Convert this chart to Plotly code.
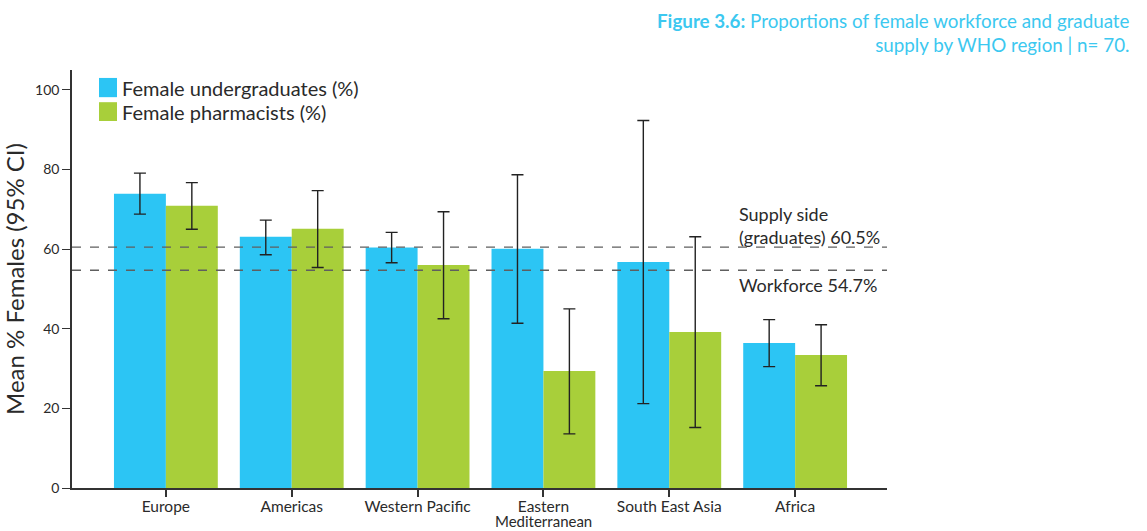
import plotly.graph_objects as go

regions = ["Europe", "Americas", "Western Pacific", "Eastern Mediterranean", "South East Asia", "Africa"]
undergrad = [73.9, 63.1, 60.4, 60.1, 56.8, 36.4]
undergrad_hi = [79.1, 67.3, 64.2, 78.7, 92.3, 42.3]
undergrad_lo = [68.8, 58.6, 56.6, 41.4, 21.2, 30.5]
pharm = [70.9, 65.1, 56.0, 29.4, 39.2, 33.4]
pharm_hi = [76.7, 74.7, 69.4, 45.0, 63.1, 41.0]
pharm_lo = [65.0, 55.4, 42.5, 13.6, 15.2, 25.7]
supply_line = 60.5
workforce_line = 54.7
y_ticks = [0, 20, 40, 60, 80, 100]
series_names = ["Female undergraduates (%)", "Female pharmacists (%)"]

BLUE = "#2cc5f4"
GREEN = "#a8cf3a"
FONT = "Lato"
TXT = "#2a2a2a"

def err(v, hi, lo):
    return dict(type="data", symmetric=False,
                array=[h - x for h, x in zip(hi, v)],
                arrayminus=[x - l for x, l in zip(v, lo)],
                color="#222222", thickness=1.4, width=6)

fig = go.Figure()
fig.add_trace(go.Bar(x=regions, y=undergrad, name=series_names[0],
                     marker=dict(color=BLUE, line=dict(width=0)),
                     error_y=err(undergrad, undergrad_hi, undergrad_lo)))
fig.add_trace(go.Bar(x=regions, y=pharm, name=series_names[1],
                     marker=dict(color=GREEN, line=dict(width=0)),
                     error_y=err(pharm, pharm_hi, pharm_lo)))

for yv in (supply_line, workforce_line):
    fig.add_shape(type="line", xref="paper", x0=0, x1=1, yref="y", y0=yv, y1=yv,
                  line=dict(color="#5f5f5f", width=1.3, dash="dash"), layer="above")

# category labels: first word on the axis, any remainder as a tight second line
tick_first = [r.split(" ")[0] if r == "Eastern Mediterranean" else r for r in regions]
for r in regions:
    if r == "Eastern Mediterranean":
        fig.add_annotation(x=r, xref="x", yref="paper", y=-0.0795, yanchor="middle",
                           text=r.split(" ", 1)[1], showarrow=False,
                           font=dict(size=15, color=TXT, family=FONT))

# custom legend (larger swatches as in the reference)
legend_rows = [(0.981, 0.935, BLUE), (0.923, 0.878, GREEN)]
for (ytop, ybot, col), name in zip(legend_rows, series_names):
    fig.add_shape(type="rect", xref="paper", yref="paper", x0=0.0331, x1=0.0552, y0=ybot, y1=ytop,
                  fillcolor=col, line=dict(width=0))
    fig.add_annotation(xref="paper", yref="paper", x=0.0595, y=(ytop + ybot) / 2, xanchor="left",
                       yanchor="middle", text=name, showarrow=False,
                       font=dict(size=20, color=TXT, family=FONT))

fig.add_annotation(xref="paper", x=0.816, yref="y", y=supply_line, yanchor="bottom", xanchor="left",
                   yshift=-3, text="Supply side<br>(graduates) 60.5%", showarrow=False, align="left",
                   font=dict(size=18, color=TXT, family=FONT))
fig.add_annotation(xref="paper", x=0.816, yref="y", y=workforce_line, yanchor="top", xanchor="left",
                   yshift=-2, text="Workforce 54.7%", showarrow=False, align="left",
                   font=dict(size=18, color=TXT, family=FONT))

fig.add_annotation(xref="paper", yref="paper", x=1.3006, y=1.029, xanchor="right", yanchor="bottom",
                   text="<b>Figure 3.6:</b> Proportions of female workforce and graduate<br>supply by WHO region | n= 70.",
                   showarrow=False, align="right", font=dict(size=18.8, color="#3cc8f0", family=FONT))

fig.update_layout(
    width=1147, height=531,
    margin=dict(l=72, r=260, t=70, b=43),
    plot_bgcolor="white", paper_bgcolor="white",
    barmode="group", bargap=0.175, bargroupgap=0,
    font=dict(family=FONT, color=TXT),
    showlegend=False,
    xaxis=dict(range=[-0.746, 5.73], showline=True, linecolor="#333333", linewidth=1.5,
               tickmode="array", tickvals=regions, ticktext=tick_first,
               ticks="outside", ticklen=7, tickwidth=1.5, tickcolor="#333333",
               ticklabelstandoff=-3,
               tickfont=dict(size=15.5, family=FONT), showgrid=False, zeroline=False,
               automargin=False),
    yaxis=dict(range=[0, 105], tickvals=y_ticks, showline=True, linecolor="#333333", linewidth=1.5,
               ticks="outside", ticklen=8, tickwidth=1.2, tickcolor="#333333",
               tickfont=dict(size=14, family=FONT), showgrid=False, zeroline=False,
               automargin=False,
               title=dict(text="Mean % Females (95% CI)", font=dict(size=24, family=FONT), standoff=7)),
)

fig.write_html("out.html", config={"displayModeBar": False},
               post_script="document.body.style.margin='0px';document.body.style.overflow='hidden';")
